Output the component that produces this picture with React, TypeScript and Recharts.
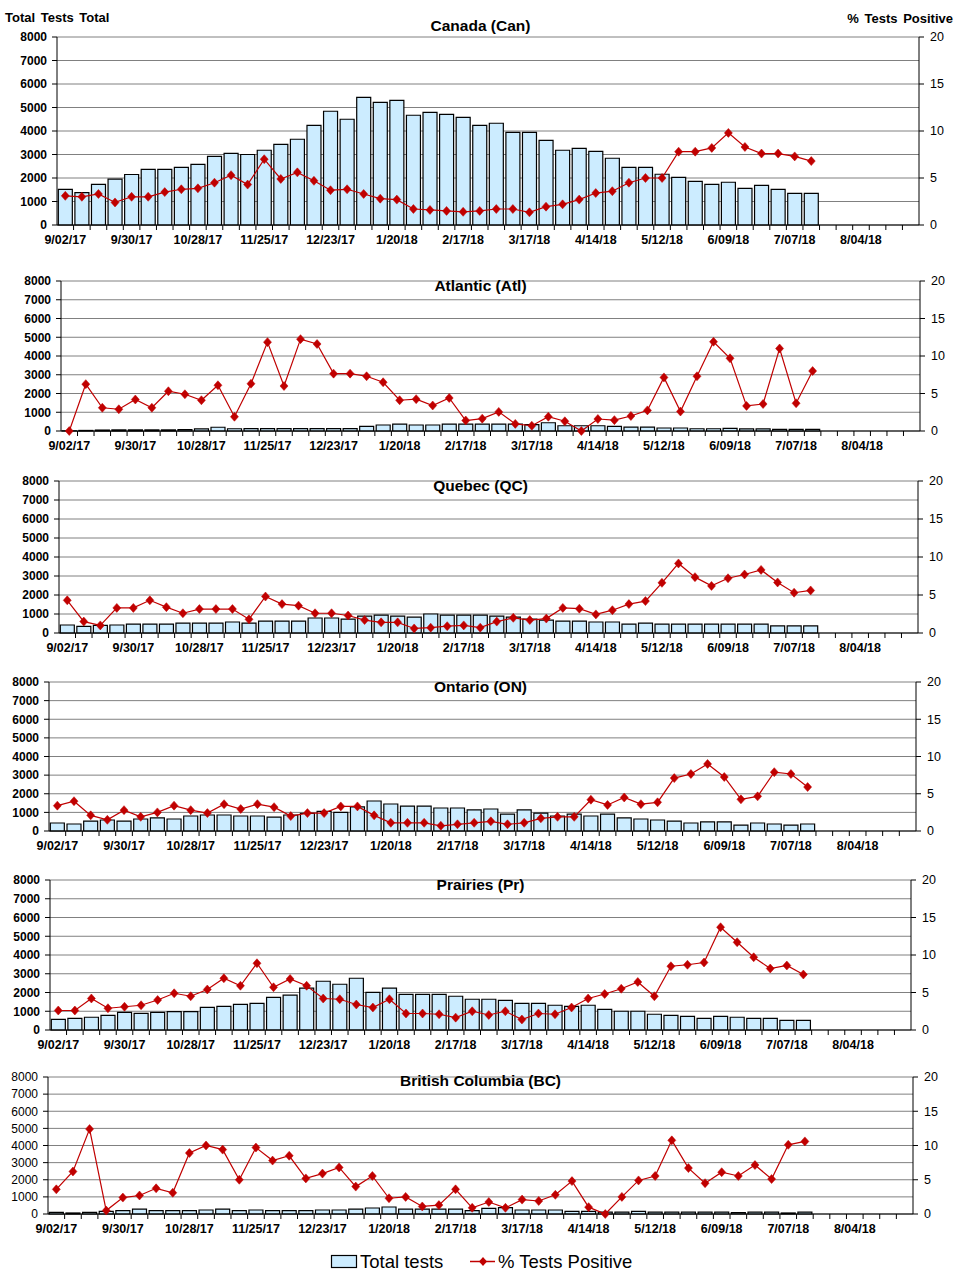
import React from 'react';
import { ComposedChart, Bar, Line, XAxis, YAxis, CartesianGrid } from 'recharts';

const FONT = '"Liberation Sans", Arial, Helvetica, sans-serif';

const weeks = [
  '9/02/17', '9/09/17', '9/16/17', '9/23/17', '9/30/17', '10/07/17', '10/14/17', '10/21/17', '10/28/17',
  '11/04/17', '11/11/17', '11/18/17', '11/25/17', '12/02/17', '12/09/17', '12/16/17', '12/23/17', '12/30/17',
  '1/06/18', '1/13/18', '1/20/18', '1/27/18', '2/03/18', '2/10/18', '2/17/18', '2/24/18',
  '3/03/18', '3/10/18', '3/17/18', '3/24/18', '3/31/18', '4/07/18', '4/14/18', '4/21/18', '4/28/18',
  '5/05/18', '5/12/18', '5/19/18', '5/26/18', '6/02/18', '6/09/18', '6/16/18', '6/23/18', '6/30/18',
  '7/07/18', '7/14/18', '7/21/18', '7/28/18', '8/04/18', '8/11/18', '8/18/18', '8/25/18',
];

const tickWeeks = ['9/02/17', '9/30/17', '10/28/17', '11/25/17', '12/23/17', '1/20/18', '2/17/18', '3/17/18', '4/14/18', '5/12/18', '6/09/18', '7/07/18', '8/04/18'];

const leftTicks = [0, 1000, 2000, 3000, 4000, 5000, 6000, 7000, 8000];
const rightTicks = [0, 5, 10, 15, 20];

const canTests = [1520, 1380, 1730, 1950, 2150, 2370, 2370, 2450, 2580, 2920, 3050, 3000, 3180, 3430, 3650, 4240, 4840, 4500, 5430, 5220, 5300, 4670, 4790, 4710, 4580, 4240, 4330, 3940, 3940, 3600, 3180, 3260, 3130, 2840, 2450, 2450, 2160, 2030, 1860, 1730, 1820, 1560, 1690, 1520, 1350, 1350];
const canPos = [3.1, 3.0, 3.3, 2.4, 3.0, 3.0, 3.5, 3.8, 3.9, 4.5, 5.3, 4.3, 7.0, 4.9, 5.6, 4.7, 3.7, 3.8, 3.3, 2.8, 2.7, 1.7, 1.6, 1.5, 1.4, 1.5, 1.7, 1.7, 1.35, 1.95, 2.2, 2.7, 3.4, 3.6, 4.5, 5.0, 5.0, 7.8, 7.8, 8.2, 9.8, 8.3, 7.6, 7.6, 7.3, 6.8];

const atlTests = [10, 30, 50, 60, 60, 60, 60, 70, 110, 200, 120, 130, 130, 130, 130, 130, 130, 130, 250, 320, 370, 320, 320, 370, 370, 370, 370, 370, 340, 440, 280, 280, 280, 250, 210, 210, 160, 160, 120, 120, 140, 110, 110, 90, 90, 90];
const atlPos = [0, 6.25, 3.1, 2.9, 4.2, 3.1, 5.3, 4.9, 4.1, 6.1, 1.9, 6.3, 11.85, 6.0, 12.25, 11.6, 7.65, 7.65, 7.3, 6.5, 4.1, 4.25, 3.4, 4.4, 1.4, 1.65, 2.55, 0.95, 0.7, 1.9, 1.3, 0, 1.6, 1.45, 2.0, 2.75, 7.15, 2.6, 7.3, 11.9, 9.7, 3.35, 3.6, 11.0, 3.7, 8.0];

const qcTests = [420, 350, 400, 420, 470, 470, 470, 525, 525, 525, 580, 525, 630, 630, 630, 790, 790, 735, 890, 945, 890, 840, 1000, 945, 945, 945, 890, 840, 735, 680, 630, 630, 580, 580, 470, 525, 470, 470, 470, 470, 470, 470, 470, 370, 370, 370];
const qcPos = [4.3, 1.5, 1.0, 3.3, 3.3, 4.3, 3.4, 2.6, 3.15, 3.15, 3.15, 1.8, 4.8, 3.8, 3.6, 2.6, 2.6, 2.3, 1.7, 1.4, 1.4, 0.6, 0.7, 0.9, 1.0, 0.7, 1.5, 2.0, 1.7, 1.9, 3.3, 3.2, 2.45, 3.0, 3.8, 4.2, 6.6, 9.15, 7.35, 6.2, 7.2, 7.7, 8.3, 6.65, 5.3, 5.6];

const onTests = [430, 375, 535, 590, 535, 645, 700, 645, 805, 860, 860, 805, 805, 750, 860, 950, 1055, 1000, 1290, 1610, 1450, 1340, 1340, 1235, 1235, 1130, 1180, 910, 1130, 965, 805, 910, 805, 910, 700, 645, 590, 535, 430, 485, 485, 320, 430, 375, 320, 375];
const onPos = [3.4, 4.0, 2.1, 1.5, 2.8, 1.9, 2.5, 3.4, 2.8, 2.4, 3.6, 2.95, 3.6, 3.2, 2.0, 2.4, 2.4, 3.3, 3.3, 2.1, 1.1, 1.1, 1.1, 0.7, 0.9, 1.1, 1.3, 0.9, 1.1, 1.7, 1.9, 1.9, 4.2, 3.5, 4.5, 3.6, 3.85, 7.1, 7.65, 9.0, 7.25, 4.25, 4.65, 7.9, 7.65, 5.9];

const prTests = [570, 625, 680, 785, 945, 890, 945, 980, 980, 1210, 1265, 1370, 1425, 1745, 1855, 2230, 2600, 2440, 2760, 2010, 2230, 1905, 1905, 1905, 1800, 1640, 1640, 1585, 1425, 1425, 1320, 1265, 1320, 1105, 1000, 1000, 840, 785, 730, 625, 730, 680, 625, 625, 515, 515];
const prPos = [2.6, 2.6, 4.2, 2.9, 3.1, 3.3, 4.0, 4.9, 4.5, 5.4, 6.9, 5.9, 8.9, 5.7, 6.8, 5.9, 4.2, 4.1, 3.4, 3.0, 4.1, 2.2, 2.2, 2.1, 1.65, 2.5, 2.0, 2.5, 1.4, 2.2, 2.1, 3.0, 4.2, 4.8, 5.5, 6.4, 4.5, 8.5, 8.7, 9.0, 13.7, 11.7, 9.7, 8.2, 8.6, 7.4];

const bcTests = [100, 60, 100, 155, 195, 290, 195, 195, 195, 235, 290, 195, 235, 195, 195, 195, 235, 235, 290, 350, 410, 290, 290, 290, 290, 195, 330, 370, 235, 235, 235, 155, 155, 115, 115, 155, 115, 115, 115, 115, 115, 80, 115, 115, 60, 115];
const bcPos = [3.6, 6.2, 12.4, 0.5, 2.4, 2.7, 3.75, 3.1, 8.9, 10.0, 9.4, 5.0, 9.7, 7.8, 8.5, 5.2, 5.9, 6.8, 4.0, 5.55, 2.3, 2.5, 1.1, 1.3, 3.6, 0.9, 1.75, 0.9, 2.1, 1.9, 2.8, 4.8, 1.0, 0, 2.5, 4.9, 5.55, 10.75, 6.7, 4.5, 6.1, 5.55, 7.15, 5.1, 10.1, 10.6];

const BAR_FILL = '#CCECFF';
const RED = '#C00000';

const Diamond = (props: any) => {
  const { cx, cy, index, value } = props;
  if (cx == null || cy == null || value == null || Number.isNaN(cy)) return <g key={`d${index}`} />;
  return (
    <path
      key={`d${index}`}
      d={`M${cx},${cy - 4.5}L${cx + 4},${cy}L${cx},${cy + 4.5}L${cx - 4},${cy}Z`}
      fill={RED}
      stroke={RED}
      strokeWidth={0.5}
    />
  );
};

const makeTick = (band: number) => (props: any) => {
  const { x, y, payload } = props;
  const label = String(payload.value);
  const idx = weeks.indexOf(label);
  const bx = x - band / 2;
  return (
    <g key={`t${idx}`}>
      {idx > 0 && <line x1={bx} y1={y} x2={bx} y2={y + 5} stroke="#000" strokeWidth={1} />}
      {tickWeeks.includes(label) && (
        <text x={x} y={y + 19} textAnchor="middle" fontSize={12.5} fontWeight="bold" fill="#000" fontFamily={FONT}>
          {label}
        </text>
      )}
    </g>
  );
};

type PanelProps = {
  title: string;
  tests: number[];
  pos: number[];
  box: [number, number, number, number];
  titleY: number;
  boldLeft: boolean;
};

function Panel({ title, tests, pos, box, titleY, boldLeft }: PanelProps) {
  const [pl, pr, pt, pb] = box;
  const LW = 45;
  const RW = 40;
  const MT = 10;
  const XH = 30;
  const data = weeks.map((w, i) => ({
    week: w,
    tests: i < tests.length ? tests[i] : null,
    pos: i < pos.length ? pos[i] : null,
  }));
  const band = (pr - pl) / weeks.length;
  const height = MT + (pb - pt) + XH;
  return (
    <>
      <div style={{ position: 'absolute', left: 0, top: pt - MT }}>
        <ComposedChart
          width={961}
          height={height}
          data={data}
          margin={{ top: MT, right: 961 - pr - RW, bottom: 0, left: pl - LW }}
          barCategoryGap="8%"
        >
          <CartesianGrid vertical={false} stroke="#808080" strokeWidth={1} />
          <XAxis
            dataKey="week"
            interval={0}
            tickLine={false}
            tickSize={0}
            tickMargin={0}
            height={XH}
            axisLine={{ stroke: '#000', strokeWidth: 1 }}
            tick={makeTick(band)}
          />
          <YAxis
            domain={[0, 8000]}
            ticks={leftTicks}
            interval={0}
            width={LW}
            tickSize={5}
            tickMargin={5}
            axisLine={{ stroke: '#000', strokeWidth: 1 }}
            tickLine={{ stroke: '#000' }}
            tick={{ fontSize: 12, fontWeight: boldLeft ? 'bold' : 'normal', fill: '#000', fontFamily: FONT }}
          />
          <YAxis
            yAxisId="r"
            orientation="right"
            domain={[0, 20]}
            ticks={rightTicks}
            interval={0}
            width={RW}
            tickSize={5}
            tickMargin={6}
            axisLine={{ stroke: '#000', strokeWidth: 1 }}
            tickLine={{ stroke: '#000' }}
            tick={{ fontSize: 12.5, fill: '#000', fontFamily: FONT, textAnchor: 'start' }}
          />
          <Bar dataKey="tests" fill={BAR_FILL} stroke="#000" strokeWidth={1.2} isAnimationActive={false} />
          <Line
            yAxisId="r"
            dataKey="pos"
            type="linear"
            stroke={RED}
            strokeWidth={1.2}
            dot={Diamond}
            activeDot={false}
            isAnimationActive={false}
          />
        </ComposedChart>
      </div>
      <div
        style={{
          position: 'absolute',
          left: 0,
          top: titleY - 10,
          width: 961,
          textAlign: 'center',
          fontSize: 15.5,
          fontWeight: 'bold',
          lineHeight: '20px',
          fontFamily: FONT,
          color: '#000',
        }}
      >
        {title}
      </div>
    </>
  );
}

export default function App() {
  return (
    <div style={{ position: 'absolute', left: 0, top: 0, width: 961, height: 1284, background: '#fff', fontFamily: FONT }}>
      <div style={{ position: 'absolute', left: 5, top: 10, fontSize: 13, fontWeight: 'bold', lineHeight: '16px', wordSpacing: 2 }}>Total Tests Total</div>
      <div style={{ position: 'absolute', left: 753, top: 11, width: 200, textAlign: 'right', fontSize: 13, fontWeight: 'bold', lineHeight: '16px', wordSpacing: 2 }}>% Tests Positive</div>
      <Panel title="Canada (Can)" tests={canTests} pos={canPos} box={[57, 919, 37, 225]} titleY={26} boldLeft />
      <Panel title="Atlantic (Atl)" tests={atlTests} pos={atlPos} box={[61, 920, 281, 431]} titleY={286} boldLeft />
      <Panel title="Quebec (QC)" tests={qcTests} pos={qcPos} box={[59, 918, 481, 633]} titleY={486} boldLeft />
      <Panel title="Ontario (ON)" tests={onTests} pos={onPos} box={[49, 916, 682, 831]} titleY={687} boldLeft />
      <Panel title="Prairies (Pr)" tests={prTests} pos={prPos} box={[50, 911, 880, 1030]} titleY={885} boldLeft />
      <Panel title="British Columbia (BC)" tests={bcTests} pos={bcPos} box={[48, 913, 1077, 1214]} titleY={1081} boldLeft={false} />
      <svg style={{ position: 'absolute', left: 0, top: 1246 }} width={961} height={32}>
        <rect x={331.5} y={9.5} width={25} height={12} fill={BAR_FILL} stroke="#000" strokeWidth={1.2} />
        <text x={360} y={22} fontSize={18.5} fill="#000" fontFamily={FONT}>Total tests</text>
        <line x1={470} y1={15.5} x2={495} y2={15.5} stroke={RED} strokeWidth={1.5} />
        <path d="M483,11L487,15.5L483,20L479,15.5Z" fill={RED} />
        <text x={498} y={22} fontSize={18.5} fill="#000" fontFamily={FONT}>% Tests Positive</text>
      </svg>
    </div>
  );
}
